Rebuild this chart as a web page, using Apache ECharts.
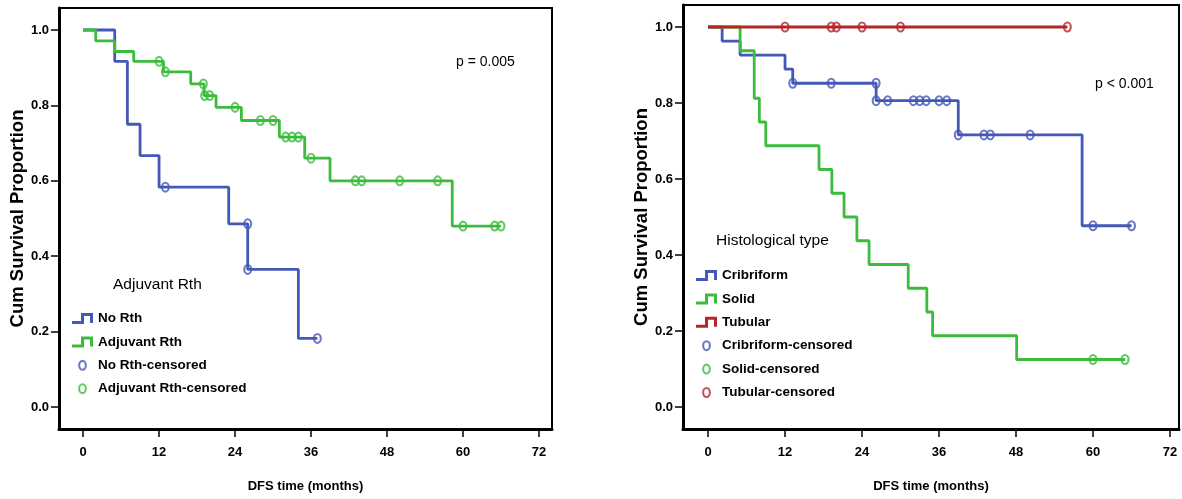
<!DOCTYPE html>
<html>
<head>
<meta charset="UTF-8">
<title>DFS Kaplan-Meier</title>
<script src="https://cdn.jsdelivr.net/npm/echarts@6/dist/echarts.min.js"></script>
<style>
  html, body { margin: 0; padding: 0; background: #fff; }
  #box { width: 1182px; height: 499px; }
</style>
</head>
<body>
<div id="box"></div>
<script>
// left panel: adjuvant radiotherapy (times in months, survival proportion after each step)
var noRthTimes = [0, 5, 7, 9, 12, 23, 26, 34];
var noRthSurv = [1.0, 0.917, 0.75, 0.667, 0.583, 0.486, 0.365, 0.182];
var noRthCensTimes = [13, 26, 26, 37];
var noRthCensSurv = [0.583, 0.486, 0.365, 0.182];

var adjTimes = [0, 2, 5, 8, 12.7, 17, 19.1, 21, 25, 31, 35, 39, 58.3];
var adjSurv = [1.0, 0.971, 0.943, 0.917, 0.889, 0.857, 0.826, 0.795, 0.76, 0.716, 0.66, 0.6, 0.48];
var adjCensTimes = [12, 13, 19, 19.2, 20, 24, 28, 30, 32, 33, 34, 36, 43, 44, 50, 56, 60, 65, 66];
var adjCensSurv = [0.917, 0.889, 0.857, 0.826, 0.826, 0.795, 0.76, 0.76, 0.716, 0.716, 0.716, 0.66, 0.6, 0.6, 0.6, 0.6, 0.48, 0.48, 0.48];

// right panel: histological type
var cribTimes = [0, 2.2, 5, 12, 13.2, 26.2, 39, 58.3];
var cribSurv = [1.0, 0.963, 0.926, 0.889, 0.852, 0.806, 0.716, 0.477];
var cribCensTimes = [13.2, 19.2, 26.2, 26.2, 28, 32, 33, 34, 36, 37.2, 39, 43, 44, 50.2, 60, 66];
var cribCensSurv = [0.852, 0.852, 0.852, 0.806, 0.806, 0.806, 0.806, 0.806, 0.806, 0.806, 0.716, 0.716, 0.716, 0.716, 0.477, 0.477];

var solidTimes = [0, 5, 7.2, 8, 9, 17.3, 19.3, 21.2, 23.2, 25.1, 31.2, 34.1, 35, 48.1];
var solidSurv = [1.0, 0.9375, 0.8125, 0.75, 0.6875, 0.625, 0.5625, 0.5, 0.4375, 0.375, 0.3125, 0.25, 0.1875, 0.125];
var solidCensTimes = [60, 65];
var solidCensSurv = [0.125, 0.125];

var tubTimes = [0];
var tubSurv = [1.0];
var tubCensTimes = [12, 19.2, 20, 24, 30, 56];
var tubCensSurv = [1.0, 1.0, 1.0, 1.0, 1.0, 1.0];

var xTicks = [0, 12, 24, 36, 48, 60, 72];
var yTicks = [0, 0.2, 0.4, 0.6, 0.8, 1.0];

var BLUE = '#4458b8', GREEN = '#3cbc3c', RED = '#b5262b';
var FONT = "'Liberation Sans', Arial, sans-serif";
// hollow ellipse (censor mark), outer ring clockwise, hole counter-clockwise
var RING = 'path://M0,5A4,5,0,1,1,8,5A4,5,0,1,1,0,5ZM1.9,5A2.1,3.1,0,1,0,6.1,5A2.1,3.1,0,1,0,1.9,5Z';
// step icon for the legend
var STEP = 'path://M0,8L9,8L9,0L21,0L21,10L18,10L18,3L12,3L12,11L0,11Z';

function kmData(times, surv, censTimes) {
    var d = times.map(function (t, i) { return [t, surv[i]]; });
    d.push([Math.max.apply(null, censTimes), surv[surv.length - 1]]);
    return d;
}
function censData(times, surv) {
    return times.map(function (t, i) { return [t, surv[i]]; });
}
function curve(name, idx, color, times, surv, censTimes, censSurv) {
    return [{
        name: name, type: 'line', xAxisIndex: idx, yAxisIndex: idx,
        data: kmData(times, surv, censTimes), step: 'end', symbol: 'none',
        lineStyle: { color: color, width: 2.8 }, itemStyle: { color: color }
    }, {
        name: name + '-censored', type: 'scatter', xAxisIndex: idx, yAxisIndex: idx,
        data: censData(censTimes, censSurv), symbol: RING, symbolSize: [9, 11],
        itemStyle: { color: color }, z: 3
    }];
}

function xAxis(idx, min, max) {
    return {
        type: 'value', gridIndex: idx, min: min, max: max,
        name: 'DFS time (months)', nameLocation: 'middle', nameGap: 51,
        nameTextStyle: { fontFamily: FONT, fontWeight: 'bold', fontSize: 13, color: '#000' },
        axisLine: { onZero: false, lineStyle: { color: '#000', width: 3 } },
        axisTick: { customValues: xTicks, length: 8, lineStyle: { color: '#000', width: 1.5 } },
        axisLabel: { customValues: xTicks, margin: 17, fontFamily: FONT, fontWeight: 'bold', fontSize: 13, color: '#000' },
        splitLine: { show: false }
    };
}
function yAxis(idx, min, max) {
    return {
        type: 'value', gridIndex: idx, min: min, max: max,
        name: 'Cum Survival Proportion', nameLocation: 'middle', nameGap: 29,
        nameTextStyle: { fontFamily: FONT, fontWeight: 'bold', fontSize: 18.5, color: '#000' },
        axisLine: { onZero: false, lineStyle: { color: '#000', width: 3 } },
        axisTick: { customValues: yTicks, length: 8, lineStyle: { color: '#000', width: 1.5 } },
        axisLabel: {
            customValues: yTicks, margin: 10, fontFamily: FONT, fontWeight: 'bold', fontSize: 13, color: '#000',
            formatter: function (v) { return v.toFixed(1); }
        },
        splitLine: { show: false }
    };
}
function legend(left, top, names) {
    return {
        orient: 'vertical', left: left, top: top, padding: 0,
        itemWidth: 21, itemHeight: 11, itemGap: 9.4,
        selectedMode: false, symbolKeepAspect: true,
        itemStyle: { borderWidth: 0 },
        textStyle: { fontFamily: FONT, fontWeight: 'bold', fontSize: 13.5, lineHeight: 14, color: '#000' },
        data: names.map(function (n) {
            return { name: n, icon: n.indexOf('-censored') > 0 ? RING : STEP };
        })
    };
}

var chart = echarts.init(document.getElementById('box'));

var option = {
    animation: false,
    backgroundColor: '#fff',
    grid: [
        { left: 59, top: 8, width: 493, height: 421, show: true, borderColor: '#000', borderWidth: 2 },
        { left: 683, top: 5, width: 496, height: 424, show: true, borderColor: '#000', borderWidth: 2 }
    ],
    xAxis: [xAxis(0, -3.8, 74.05), xAxis(1, -3.9, 73.4)],
    yAxis: [yAxis(0, -0.0584, 1.0584), yAxis(1, -0.0579, 1.0579)],
    legend: [
        legend(72, 311.5, ['No Rth', 'Adjuvant Rth', 'No Rth-censored', 'Adjuvant Rth-censored']),
        legend(696, 268.5, ['Cribriform', 'Solid', 'Tubular', 'Cribriform-censored', 'Solid-censored', 'Tubular-censored'])
    ],
    graphic: [
        { type: 'text', left: 456, top: 55, style: { text: 'p = 0.005', font: '14px ' + FONT, fill: '#000' } },
        { type: 'text', left: 1095, top: 77, style: { text: 'p < 0.001', font: '14px ' + FONT, fill: '#000' } },
        { type: 'text', left: 113, top: 277, style: { text: 'Adjuvant Rth', font: '15.5px ' + FONT, fill: '#000' } },
        { type: 'text', left: 716, top: 233, style: { text: 'Histological type', font: '15.5px ' + FONT, fill: '#000' } }
    ],
    series: [].concat(
        curve('No Rth', 0, BLUE, noRthTimes, noRthSurv, noRthCensTimes, noRthCensSurv),
        curve('Adjuvant Rth', 0, GREEN, adjTimes, adjSurv, adjCensTimes, adjCensSurv),
        curve('Cribriform', 1, BLUE, cribTimes, cribSurv, cribCensTimes, cribCensSurv),
        curve('Solid', 1, GREEN, solidTimes, solidSurv, solidCensTimes, solidCensSurv),
        curve('Tubular', 1, RED, tubTimes, tubSurv, tubCensTimes, tubCensSurv)
    )
};

chart.setOption(option);
</script>
</body>
</html>
